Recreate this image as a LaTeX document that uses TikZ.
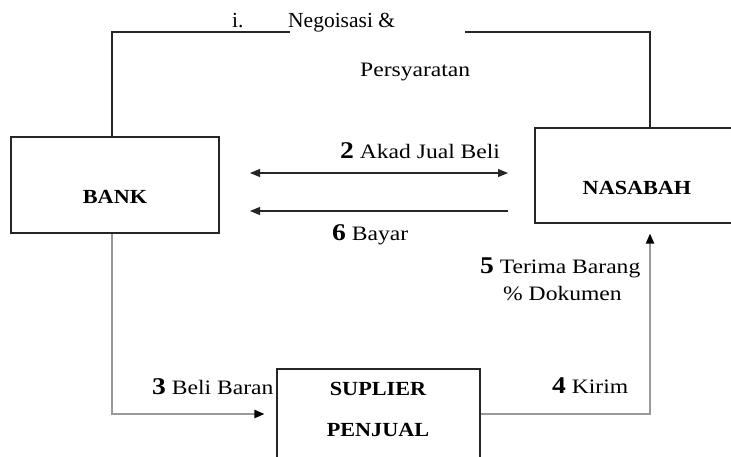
\documentclass[tikz,border=0pt]{standalone}
\usepackage{fontspec}
\setmainfont{Liberation Serif}
\newfontfamily\lblfont{Liberation Serif}[FakeStretch=1.15]
\newfontfamily\boxfont{Liberation Serif}[FakeStretch=1.11]
\usetikzlibrary{arrows.meta}
\begin{document}
\begin{tikzpicture}[x=1pt,y=-1pt,
  box/.style={draw=black!85, line width=1.1pt, fill=white, inner sep=0pt},
  boxtxt/.style={font=\boxfont\bfseries\fontsize{20}{21}\selectfont, inner sep=0pt},
  lbl/.style={font=\lblfont\fontsize{20.5}{21}\selectfont, inner sep=0pt, anchor=base west},
  toptxt/.style={font=\fontsize{21.5}{22}\selectfont, inner sep=0pt, anchor=base west},
  blk/.style={line width=1.1pt, draw=black!85},
  gry/.style={line width=2pt, draw=black!40},
  tipk/.tip={Triangle[length=10pt,width=8pt,color=black]},
  tipb/.tip={Triangle[length=10pt,width=8pt]}
]
\useasboundingbox[fill=white] (0,0) rectangle (731,456);

% boxes
\node[box, minimum width=208pt, minimum height=96pt] (bank) at (115,185) {};
\node[box, minimum width=212pt, minimum height=95pt] (nas) at (641,175.5) {};
\node[box, minimum width=203pt, minimum height=100pt] (sup) at (378.5,419) {};

\node[boxtxt] (bankt) at (115,197) {BANK};
\node[boxtxt] (nast) at (637,188) {NASABAH};
\node[boxtxt] (supt1) at (378,389) {SUPLIER};
\node[boxtxt] (supt2) at (378,430) {PENJUAL};

% top loop
\coordinate (tl) at (112,32);
\coordinate (tg1) at (290,32);
\coordinate (tg2) at (465,32);
\coordinate (tr) at (650,32);
\draw[blk] (bank.north -| tl) -- (tl) -- (tg1);
\draw[blk] (tg2) -- (tr) -- (tr |- nas.north);

% middle arrows
\coordinate (a2l) at (250,173);
\coordinate (a2r) at (508,173);
\coordinate (a6l) at (250,211);
\coordinate (a6r) at (508,211);
\draw[blk, tipb-tipb] (a2l) -- (a2r);
\draw[blk, -tipb] (a6r) -- (a6l);

% bottom grey connectors
\coordinate (bl) at (112,414);
\coordinate (br) at (650,414);
\draw[gry, -tipk, shorten >=12pt] (bank.south -| bl) -- (bl) -- (sup.west |- bl);
\draw[gry, -tipk, shorten >=10pt] (sup.east |- br) -- (br) -- (nas.south -| br);

% labels
\node[toptxt] (li) at (232,27) {i.};
\node[toptxt] (lneg) at (288,27) {Negoisasi \&};
\node[lbl] (lper) at (360,76) {Persyaratan};
\node[lbl] (l2) at (340,158) {{\fontsize{24}{24}\selectfont\bfseries 2} Akad Jual Beli};
\node[lbl] (l6) at (332,240) {{\fontsize{24}{24}\selectfont\bfseries 6} Bayar};
\node[lbl] (l5) at (480,273) {{\fontsize{24}{24}\selectfont\bfseries 5} Terima Barang};
\node[lbl] (l5b) at (503,300) {\% Dokumen};
\node[lbl] (l4) at (552,393) {{\fontsize{24}{24}\selectfont\bfseries 4} Kirim};
\node[lbl] (l3) at (152,394) {{\fontsize{24}{24}\selectfont\bfseries 3} Beli Baran};
\end{tikzpicture}
\end{document}
